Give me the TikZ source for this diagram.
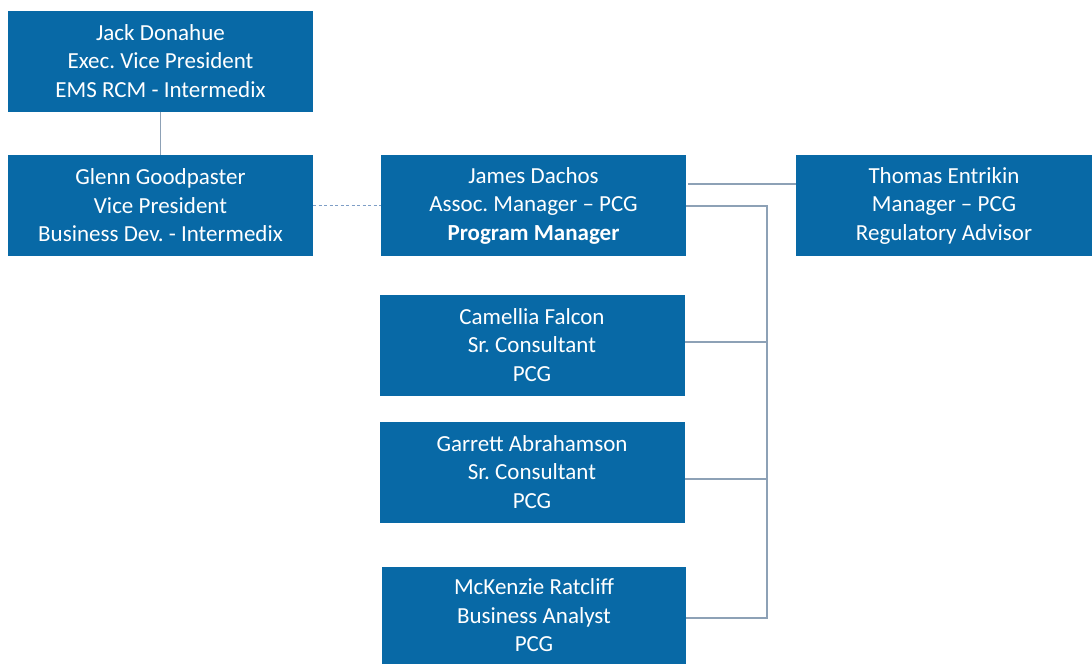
\documentclass[tikz,border=0pt]{standalone}
\usepackage{fontspec}
\setmainfont{Carlito}
\usepackage{xcolor}
\definecolor{boxblue}{HTML}{0869A6}
\definecolor{linkgray}{HTML}{8DA1B6}
\definecolor{dashblue}{HTML}{7E9EC6}
\frenchspacing

\begin{document}
\begin{tikzpicture}[x=1pt,y=1pt,
    person/.style={fill=boxblue, text=white, inner sep=0pt, align=center,
        minimum width=305pt, minimum height=101pt,
        font=\fontsize{23}{28.5}\selectfont},
    link/.style={draw=linkgray, line width=1.2pt}]
    % canvas
    \useasboundingbox (0,0) rectangle (1092,-664);

    % Draw the boxes
    \node[person] (jack) at (160.5,-61) {Jack Donahue\\Exec. Vice President\\EMS RCM - Intermedix};
    \node[person] (glenn) at (160.5,-205.5) {Glenn Goodpaster\\Vice President\\Business Dev. - Intermedix};
    \node[person] (james) at (533.5,-205.5) {James Dachos\\Assoc. Manager -- PCG\\\textbf{Program Manager}};
    \node[person, minimum width=296pt] (thomas) at (944,-205.5) {Thomas Entrikin\\Manager -- PCG\\Regulatory Advisor};
    \node[person] (camellia) at (532,-345) {Camellia Falcon\\Sr. Consultant\\PCG};
    \node[person] (garrett) at (532,-472) {Garrett Abrahamson\\Sr. Consultant\\PCG};
    \node[person, minimum width=304pt, minimum height=97pt] (mckenzie) at (534,-615.5) {McKenzie Ratcliff\\Business Analyst\\PCG};

    % Draw the links
    \draw[link] (jack) -- (glenn);
    \draw[draw=dashblue, line width=1.4pt, dash pattern=on 3pt off 2.5pt] (glenn) -- (james);
    \draw[link] ([xshift=2pt,yshift=21.5pt]james.east) -- ([yshift=21.5pt]thomas.west);
    \coordinate (bus) at (767,-206); % branch point
    \draw[link] (james.east |- bus) -- (bus) -- (bus |- 0,-618) -- (mckenzie.east |- 0,-618);
    \draw[link] (bus |- 0,-342) -- (camellia.east |- 0,-342);
    \draw[link] (bus |- 0,-479) -- (garrett.east |- 0,-479);
\end{tikzpicture}
\end{document}
